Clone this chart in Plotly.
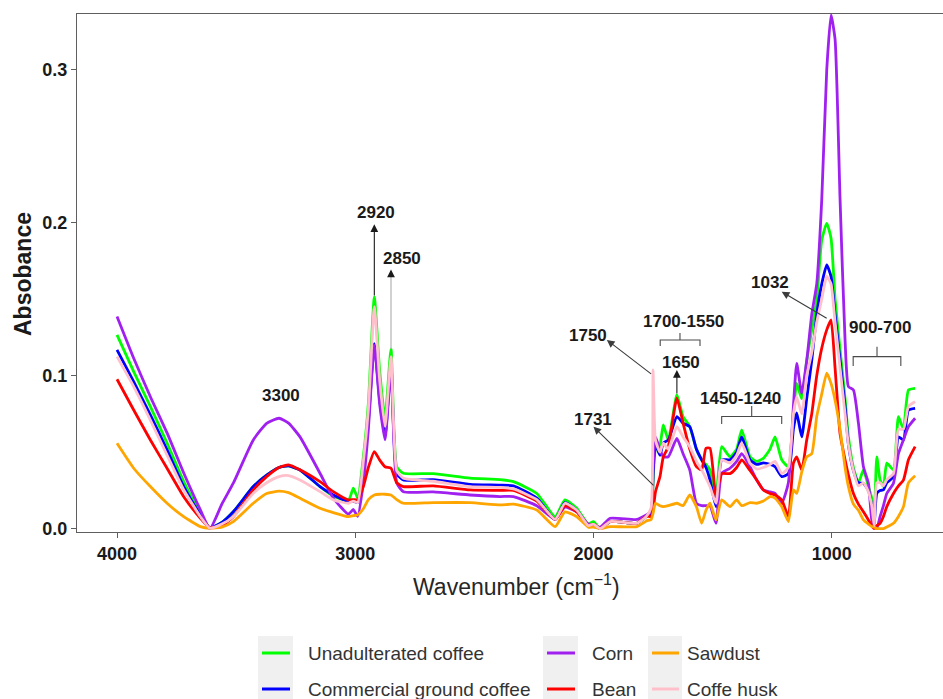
import plotly.graph_objects as go

# ---- Spectral data (absorbance vs wavenumber, cm^-1) ----
wavenumber = [
    4000, 3930, 3860, 3790, 3720, 3650, 3610, 3560, 3512, 3428,
    3372, 3320, 3280, 3232, 3148, 3092, 3029, 3008, 2990, 2966,
    2945, 2920, 2898, 2875, 2850, 2826, 2798, 2673, 2518, 2392,
    2336, 2238, 2161, 2120, 2070, 2022, 2000, 1972, 1930, 1818,
    1778, 1758, 1750, 1740, 1721, 1707, 1686, 1650, 1624, 1596,
    1568, 1546, 1528, 1511, 1486, 1462, 1427, 1399, 1378, 1343,
    1315, 1287, 1259, 1238, 1210, 1182, 1161, 1147, 1126, 1105,
    1084, 1063, 1042, 1021, 1003, 986, 965, 944, 930, 909,
    888, 867, 846, 832, 822, 811, 797, 783, 769, 741,
    720, 699, 678, 650,
]

unadulterated = [
    .1267, .1027, .0798, .0560, .0307, .0100, .0005, .0040, .0110, .0275,
    .0350, .0400, .0410, .0384, .0275, .0213, .0183, .0264, .0200, .0470,
    .0820, .1515, .1040, .0722, .1175, .0405, .0362, .0360, .0330, .0320,
    .0307, .0230, .0078, .0188, .0133, .0030, .0046, .0000, .0046, .0035,
    .0080, .0100, .0300, .0520, .0550, .0678, .0580, .0874, .0733, .0667,
    .0520, .0450, .0420, .0384, .0210, .0536, .0470, .0520, .0646, .0470,
    .0440, .0460, .0520, .0600, .0450, .0405, .0750, .0950, .0850, .1100,
    .1300, .1495, .1888, .1997, .1900, .1500, .1170, .0850, .0600, .0400,
    .0300, .0384, .0275, .0200, .0057, .0470, .0318, .0275, .0428, .0384,
    .0733, .0650, .0907, .0918,
]

commercial = [
    .1169, .0961, .0744, .0515, .0275, .0090, .0005, .0040, .0110, .0275,
    .0350, .0400, .0410, .0384, .0275, .0220, .0177, .0180, .0170, .0400,
    .0700, .1210, .0850, .0602, .1080, .0360, .0318, .0320, .0290, .0285,
    .0280, .0200, .0060, .0170, .0120, .0020, .0030, .0000, .0046, .0035,
    .0080, .0100, .0350, .0550, .0480, .0560, .0580, .0733, .0690, .0667,
    .0520, .0450, .0400, .0318, .0144, .0450, .0450, .0500, .0600, .0450,
    .0420, .0430, .0420, .0405, .0340, .0360, .0650, .0757, .0600, .0850,
    .1100, .1400, .1600, .1725, .1650, .1400, .1100, .0800, .0550, .0380,
    .0300, .0297, .0250, .0150, .0030, .0230, .0250, .0253, .0300, .0340,
    .0600, .0580, .0776, .0787,
]

corn = [
    .1387, .1114, .0863, .0626, .0364, .0122, .0000, .0160, .0297, .0580,
    .0689, .0722, .0690, .0600, .0362, .0199, .0095, .0125, .0080, .0300,
    .0650, .1200, .0820, .0580, .1040, .0300, .0242, .0240, .0220, .0210,
    .0210, .0150, .0060, .0140, .0110, .0030, .0020, .0010, .0068, .0060,
    .0090, .0110, .0400, .0600, .0515, .0470, .0470, .0590, .0490, .0384,
    .0166, .0150, .0150, .0150, .0035, .0362, .0395, .0440, .0490, .0405,
    .0318, .0253, .0240, .0230, .0166, .0300, .0800, .1080, .0885, .1100,
    .1400, .1600, .2150, .3000, .3360, .3200, .2150, .1230, .0929, .0907,
    .0690, .0405, .0297, .0057, .0020, .0000, .0078, .0150, .0230, .0297,
    .0490, .0580, .0667, .0722,
]

bean = [
    .0977, .0776, .0580, .0395, .0209, .0068, .0005, .0020, .0078, .0253,
    .0340, .0400, .0417, .0385, .0307, .0242, .0188, .0190, .0190, .0275,
    .0400, .0504, .0450, .0405, .0395, .0300, .0275, .0280, .0253, .0250,
    .0250, .0180, .0060, .0150, .0110, .0020, .0030, .0000, .0046, .0035,
    .0080, .0080, .0120, .0240, .0340, .0470, .0536, .0853, .0690, .0520,
    .0405, .0384, .0526, .0526, .0210, .0360, .0360, .0400, .0450, .0380,
    .0318, .0253, .0230, .0220, .0188, .0078, .0428, .0470, .0384, .0580,
    .0750, .1000, .1180, .1300, .1365, .1050, .0620, .0450, .0350, .0230,
    .0160, .0110, .0057, .0020, .0000, .0020, .0035, .0080, .0144, .0230,
    .0280, .0318, .0450, .0536,
]

sawdust = [
    .0558, .0395, .0275, .0166, .0078, .0013, .0002, .0010, .0046, .0166,
    .0230, .0245, .0235, .0199, .0133, .0105, .0078, .0085, .0090, .0130,
    .0190, .0220, .0225, .0225, .0220, .0190, .0166, .0170, .0170, .0155,
    .0160, .0122, .0013, .0110, .0078, .0010, .0010, .0000, .0013, .0013,
    .0050, .0060, .0100, .0166, .0150, .0144, .0150, .0166, .0150, .0220,
    .0144, .0035, .0120, .0166, .0057, .0188, .0144, .0188, .0150, .0170,
    .0166, .0180, .0210, .0200, .0144, .0046, .0253, .0230, .0370, .0470,
    .0490, .0733, .0880, .1017, .0950, .0840, .0650, .0400, .0275, .0160,
    .0120, .0057, .0030, .0013, .0010, .0000, .0000, .0000, .0010, .0035,
    .0080, .0144, .0300, .0346,
]

coffee_husk = [
    .1125, .0929, .0710, .0481, .0253, .0078, .0003, .0030, .0078, .0231,
    .0300, .0340, .0347, .0318, .0242, .0188, .0166, .0180, .0170, .0440,
    .0780, .1450, .0980, .0667, .1125, .0380, .0330, .0310, .0275, .0270,
    .0260, .0190, .0060, .0166, .0120, .0020, .0030, .0000, .0046, .0035,
    .0080, .0140, .1038, .0580, .0500, .0560, .0520, .0667, .0600, .0536,
    .0440, .0384, .0330, .0275, .0166, .0450, .0428, .0480, .0560, .0428,
    .0390, .0400, .0420, .0440, .0360, .0400, .0750, .0860, .0750, .1000,
    .1150, .1350, .1500, .1650, .1600, .1350, .1050, .0750, .0550, .0380,
    .0280, .0300, .0240, .0150, .0020, .0300, .0300, .0280, .0320, .0360,
    .0650, .0650, .0800, .0830,
]

series_names = ["Unadulterated coffee", "Commercial ground coffee", "Corn",
                "Bean", "Sawdust", "Coffe husk"]
series_values = [unadulterated, commercial, corn, bean, sawdust, coffee_husk]
series_colors = ["#00ff00", "#0000ff", "#a020f0", "#ff0000", "#ffa500", "#ffc0cb"]

# ---- Band annotations ----
band_labels = ["3300", "2920", "2850", "1750", "1700-1550", "1650",
               "1731", "1450-1240", "1032", "900-700"]
band_label_x = [3312, 2915, 2805, 2023, 1624, 1632, 2002, 1381, 1259, 797]
band_label_y = [0.0874, 0.2065, 0.1764, 0.126, 0.1358, 0.1084,
                0.0711, 0.0848, 0.1613, 0.1313]

# arrows: (tail x, tail y, head x, head y, colour)
arrows = [
    (2920, 0.1515, 2920, 0.1991, "#1a1a1a"),
    (2850, 0.1640, 2850, 0.1695, "#1a1a1a"),
    (1650, 0.0874, 1650, 0.1038, "#1a1a1a"),
    (1752, 0.1005, 1944, 0.1234, "#3c3c3c"),
    (1742, 0.0273, 2000, 0.0667, "#3c3c3c"),
    (1015, 0.1370, 1210, 0.1550, "#3c3c3c"),
]

# brackets: (left x, right x, bar y, foot y, centre x, stem top y)
brackets = [
    (1720, 1553, 0.1234, 0.1194, 1637, 0.1280),
    (1462, 1210, 0.0733, 0.0685, 1336, 0.0802),
    (910, 710, 0.1125, 0.1064, 810, 0.1190),
]

# ---- Figure geometry (pixels) ----
W, H = 943, 699
ML, MR, MT, MB = 77, 0, 14, 167
FONT = "Liberation Sans, Arial, sans-serif"

# legend grid: three columns of two rows, keys on a light-grey strip
legend_cols = [(258, 293, 306), (543, 578, 590), (648, 682, 685)]  # key strip x0, x1, text x
legend_rows = [653, 689]
legend_slots = [(0, 0), (0, 1), (1, 0), (1, 1), (2, 0), (2, 1)]


def paper_x(px):
    return (px - ML) / (W - ML - MR)


def paper_y(py):
    return (H - MB - py) / (H - MT - MB)


fig = go.Figure()

for name, vals, color in zip(series_names, series_values, series_colors):
    fig.add_trace(go.Scatter(
        x=wavenumber, y=vals, mode="lines", name=name, showlegend=False,
        line=dict(color=color, width=2.8, shape="spline", smoothing=0.5),
    ))

annotations = []
for txt, x, y in zip(band_labels, band_label_x, band_label_y):
    annotations.append(dict(
        x=x, y=y, xref="x", yref="y", text=txt, showarrow=False,
        xanchor="center", yanchor="middle",
        font=dict(family=FONT, size=17, color="#1a1a1a", weight="bold"),
    ))

for tx, ty, hx, hy, col in arrows:
    annotations.append(dict(
        x=hx, y=hy, xref="x", yref="y", ax=tx, ay=ty, axref="x", ayref="y",
        text="", showarrow=True, arrowhead=2, arrowsize=1.4, arrowwidth=1.1,
        arrowcolor=col, standoff=0, startstandoff=0,
    ))

# axis titles
annotations.append(dict(
    x=paper_x(23), y=paper_y(274), xref="paper", yref="paper",
    text="Absobance", textangle=-90, showarrow=False,
    xanchor="center", yanchor="middle",
    font=dict(family=FONT, size=23, color="#1a1a1a", weight="bold"),
))
annotations.append(dict(
    x=paper_x(516), y=paper_y(585), xref="paper", yref="paper",
    text="Wavenumber (cm<sup>\u22121</sup>)", showarrow=False,
    xanchor="center", yanchor="middle",
    font=dict(family=FONT, size=23, color="#262626"),
))

shapes = []
# light-grey shaft under the 2850 arrow head
shapes.append(dict(type="line", xref="x", yref="y", x0=2850, x1=2850,
                   y0=0.1175, y1=0.1650, line=dict(color="#b8b8b8", width=1.3)))
for x0, x1, yb, yf, xm, ys in brackets:
    shapes.append(dict(
        type="path", xref="x", yref="y",
        path=f"M{x0},{yf} L{x0},{yb} L{x1},{yb} L{x1},{yf} M{xm},{yb} L{xm},{ys}",
        line=dict(color="#4a4a4a", width=1.1),
    ))

# legend: grey key strips, coloured key lines and labels
for kx0, kx1, _ in legend_cols:
    shapes.append(dict(type="rect", xref="paper", yref="paper",
                       x0=paper_x(kx0), x1=paper_x(kx1),
                       y0=paper_y(702), y1=paper_y(636),
                       fillcolor="#f0f0f0", line=dict(width=0), layer="below"))
for name, color, (ci, ri) in zip(series_names, series_colors, legend_slots):
    kx0, kx1, tx = legend_cols[ci]
    ry = legend_rows[ri]
    shapes.append(dict(type="line", xref="paper", yref="paper",
                       x0=paper_x(kx0 + 4), x1=paper_x(kx1 - 3),
                       y0=paper_y(ry), y1=paper_y(ry),
                       line=dict(color=color, width=3)))
    annotations.append(dict(
        x=paper_x(tx), y=paper_y(ry), xref="paper", yref="paper",
        text=name, showarrow=False, xanchor="left", yanchor="middle",
        font=dict(family=FONT, size=19, color="#333333"),
    ))

axis_line = "#5e5e5e"
fig.update_layout(
    width=W, height=H,
    margin=dict(l=ML, r=MR, t=MT, b=MB, pad=0, autoexpand=False),
    paper_bgcolor="white", plot_bgcolor="white",
    showlegend=False,
    annotations=annotations,
    shapes=shapes,
    xaxis=dict(
        range=[4168, 533], tickvals=[4000, 3000, 2000, 1000],
        showgrid=False, zeroline=False,
        showline=True, linecolor=axis_line, linewidth=1.4, mirror=True,
        ticks="outside", ticklen=5, tickwidth=1.2, tickcolor=axis_line,
        tickfont=dict(family=FONT, size=18, color="#1a1a1a", weight="bold"),
    ),
    yaxis=dict(
        range=[-0.0022, 0.3366], tickvals=[0.0, 0.1, 0.2, 0.3], tickformat=".1f",
        showgrid=False, zeroline=False,
        showline=True, linecolor=axis_line, linewidth=1.4, mirror=False,
        ticks="outside", ticklen=5, tickwidth=1.2, tickcolor=axis_line,
        tickfont=dict(family=FONT, size=18, color="#1a1a1a", weight="bold"),
    ),
)

fig.write_html("out.html")
